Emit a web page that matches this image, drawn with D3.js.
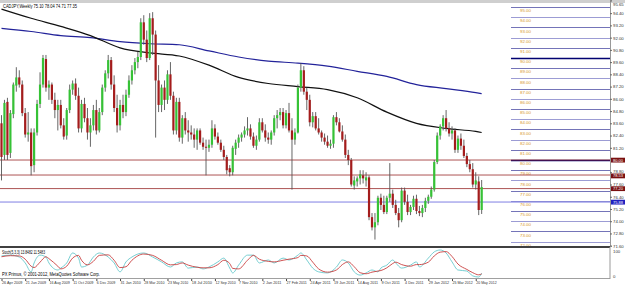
<!DOCTYPE html>
<html lang="en">
<head>
<meta charset="utf-8">
<script src="https://cdn.jsdelivr.net/npm/d3@7"></script>
<style>
  body { margin: 0; background: #fff; }
  svg text { font-family: "Liberation Sans", Arial, sans-serif; }
</style>
</head>
<body>
<script>
// weekly CADJPY bars, one per week starting 26 Apr 2009
const opens = [83.6,80.5,85.7,80.7,84.5,87.3,88.1,87.4,84.6,82.5,
  82.7,79.5,82.7,85.5,87.4,89.9,87.1,87.4,85.9,84.9,
  85.4,83.4,82.4,84.9,86.9,87.5,86.3,83.1,85.5,84.1,
  82.7,83.4,84.9,82.9,84.7,87.1,88.5,89.8,87.4,85.1,
  83.4,85.4,84.7,86.4,87.8,88.8,89.6,90.1,93.5,91.8,
  90.0,93.9,92.3,87.8,85.4,87.1,85.9,88.4,86.3,82.9,
  85.7,82.2,84.1,82.9,82.7,82.5,82.0,82.9,81.7,81.3,
  81.2,81.5,83.1,82.3,81.7,81.0,80.3,79.2,78.8,81.1,
  81.7,82.2,82.5,82.9,83.1,82.3,81.4,82.0,83.7,82.9,
  82.2,82.0,82.7,84.1,84.4,84.7,83.4,84.6,82.9,82.0,
  82.7,87.1,88.8,86.7,85.9,83.7,84.3,83.1,82.7,82.2,
  81.8,81.4,81.6,84.2,83.7,82.8,82.0,80.5,80.0,77.5,
  77.9,78.2,78.5,78.0,78.3,74.4,73.4,73.9,76.3,75.6,
  74.9,76.3,76.7,75.6,74.8,74.1,77.0,75.9,74.9,75.4,
  76.2,75.0,74.8,75.3,76.0,76.4,77.1,79.8,82.4,83.3,
  84.1,83.1,82.6,82.9,81.0,82.1,81.4,80.4,79.6,79.1,
  77.6,77.9,75.10];
const highs = [84.4,85.9,86.1,84.9,87.6,89.1,88.8,87.8,85.1,84.7,
  83.1,83.1,85.9,88.6,90.3,90.3,87.8,87.6,86.6,85.9,
  85.9,84.1,85.1,87.4,87.8,88.0,87.1,85.9,86.1,85.1,
  84.1,85.4,85.9,85.1,87.4,88.8,90.3,90.1,88.3,86.4,
  85.9,86.4,86.9,88.3,89.3,90.0,90.6,93.9,94.2,92.7,
  94.4,94.5,92.7,89.3,87.4,87.8,88.8,89.6,86.7,86.1,
  86.1,84.4,84.7,83.9,83.4,83.1,83.1,83.1,82.2,82.0,
  82.0,83.9,83.5,82.7,82.0,81.4,80.5,79.5,81.4,82.0,
  82.5,82.7,83.3,84.2,83.5,82.7,82.4,84.1,84.1,83.5,
  82.7,82.9,84.4,84.9,85.1,85.1,84.9,85.6,84.1,83.1,
  87.4,89.5,89.2,87.1,86.4,84.7,84.7,84.1,82.9,82.6,
  82.4,82.0,84.4,84.7,84.1,83.4,82.5,81.0,80.2,78.4,
  78.4,79.0,79.0,78.8,78.5,74.8,74.8,76.5,76.7,76.5,
  76.5,79.7,77.1,76.1,75.3,77.3,77.3,76.6,75.6,76.5,
  76.6,75.5,75.6,76.3,76.6,77.4,80.0,82.7,83.5,84.4,
  84.9,83.7,83.3,83.1,82.4,82.6,82.0,80.7,80.0,79.7,
  78.8,78.4,78.04];
const lows = [78.0,80.0,80.0,80.2,84.1,86.7,87.1,84.3,82.2,81.8,
  78.5,78.8,82.4,85.1,87.1,86.7,85.9,85.5,84.1,82.9,
  83.1,82.0,82.0,84.6,86.4,85.9,82.7,82.7,83.7,82.0,
  81.3,82.9,82.5,82.7,84.4,86.7,88.0,86.9,84.7,82.7,
  82.9,84.1,84.3,86.1,87.4,88.4,89.0,89.8,91.3,89.6,
  89.8,90.3,82.2,84.7,84.7,84.9,85.5,85.9,82.5,82.5,
  81.8,81.6,82.5,81.8,82.0,81.2,81.0,81.5,81.0,78.5,
  80.8,81.2,82.0,81.5,80.8,80.0,78.6,78.4,78.5,80.5,
  81.2,81.8,82.2,82.4,82.0,81.2,81.0,81.8,82.7,81.8,
  81.6,81.5,82.4,83.1,83.9,83.1,83.1,82.7,77.1,81.5,
  82.6,86.7,86.4,84.9,83.3,83.2,82.9,82.5,81.8,81.5,
  81.2,81.1,81.2,83.4,82.7,81.8,80.2,79.5,77.4,77.1,
  77.4,77.6,77.7,77.4,74.1,73.1,72.2,73.6,75.1,74.7,
  74.7,75.9,75.3,74.6,73.4,73.9,75.6,74.6,74.6,75.1,
  74.7,74.5,74.4,74.9,75.7,76.2,76.9,79.6,82.0,82.9,
  82.8,82.3,82.0,80.7,80.7,81.0,80.2,79.3,78.8,77.3,
  77.1,74.6,74.71];
const closes = [80.3,85.6,80.5,84.6,87.4,88.1,87.4,84.6,82.5,82.7,
  79.4,82.7,85.5,87.4,90.0,87.1,87.4,85.9,84.9,85.4,
  83.4,82.3,84.9,86.9,87.5,86.3,83.1,85.5,84.1,82.7,
  83.4,84.9,82.9,84.7,87.1,88.5,89.8,87.4,85.1,83.4,
  85.4,84.7,86.4,87.8,88.8,89.6,90.1,93.5,91.8,90.0,
  93.9,92.3,87.8,85.4,87.1,85.9,88.4,86.3,82.9,85.7,
  82.2,84.1,82.9,82.7,82.5,82.0,82.9,81.7,81.3,81.2,
  81.5,83.1,82.3,81.7,81.0,80.3,79.0,78.8,81.2,81.7,
  82.2,82.5,82.9,83.1,82.3,81.4,82.0,83.7,82.9,82.2,
  82.0,82.7,84.1,84.4,84.7,83.4,84.6,82.9,82.0,82.7,
  87.1,88.8,86.7,85.9,83.7,84.3,83.1,82.7,82.2,81.8,
  81.4,81.6,84.2,83.7,82.8,82.0,80.5,80.0,77.6,78.0,
  78.2,78.6,78.2,78.3,74.4,73.4,73.9,76.3,75.6,74.9,
  76.3,76.7,75.6,74.8,74.1,77.0,75.9,74.9,75.4,76.2,
  75.0,74.8,75.3,76.0,76.4,77.1,79.8,82.4,83.3,84.1,
  83.1,82.6,82.9,81.0,82.1,81.4,80.4,79.6,79.1,77.6,
  78.0,75.1,77.35];

// moving averages read at a few bars
const maIdx    = [0,10,20,30,40,50,60,70,80,90,100,110,120,130,140,150,160,162];
const maBlack  = [94.8,93.9,93.1,92.2,91.0,90.5,90.2,89.3,88.1,87.5,87.2,86.9,86.1,84.7,83.6,83.1,82.8,82.7];
const maBlue   = [92.9,92.6,92.2,92.0,91.6,91.4,91.3,90.7,90.1,89.7,89.5,89.2,88.7,88.2,87.4,87.0,86.6,86.5];

// stochastic (5,3,3)
const stoIdx = [0,3,6,8,10,11,13,15,16,19,20,22,24,26,27,29,31,33,36,38,
  40,42,44,48,51,54,57,59,61,63,66,68,70,73,75,77,78,80,83,85,
  87,90,92,95,97,100,101,103,105,107,110,113,115,117,119,121,123,125,127,128,
  130,132,133,135,138,140,141,144,146,148,150,152,154,157,159,161,162];
const stoMain = [78,81,74,52,19,52,81,74,52,26,33,52,89,70,37,44,74,89,74,52,
  19,56,74,89,74,56,37,52,56,33,37,30,37,56,70,33,15,44,81,81,
  52,63,52,70,63,81,89,63,33,19,15,37,63,52,19,7,15,26,19,33,
  44,63,52,33,44,56,37,70,93,100,89,56,26,22,4,0,13.8];
const stoSignal = [75,79,78,66,40,35,55,75,68,40,30,40,70,80,62,45,58,80,82,62,
  35,38,62,85,80,62,45,46,52,44,36,34,34,46,62,50,32,30,62,80,
  66,58,56,62,66,72,80,78,55,30,18,26,46,56,38,16,12,18,22,24,
  34,50,55,46,40,46,46,55,78,92,94,76,48,28,16,8,11.5];

// time axis labels (every 8 weeks)
const tickIdx = [0,8,16,24,32,40,48,56,64,72,80,88,96,104,112,120,128,136,144,152,160];
const tickLabels = ["26 Apr 2009","21 Jun 2009","16 Aug 2009","11 Oct 2009","6 Dec 2009",
  "31 Jan 2010","28 Mar 2010","23 May 2010","18 Jul 2010","12 Sep 2010","7 Nov 2010",
  "2 Jan 2011","27 Feb 2011","24 Apr 2011","19 Jun 2011","14 Aug 2011","9 Oct 2011",
  "4 Dec 2011","29 Jan 2012","25 Mar 2012","20 May 2012"];

// price axis labels
const priceTicks = [95.65,94.40,93.20,92.00,90.80,89.60,88.40,87.20,86.00,84.80,83.60,
  82.40,81.20,78.80,77.60,76.40,75.20,74.00,72.80,71.60];

// horizontal levels
const redLevels = [80.00,78.53,77.20];
const blueLevel = 75.88;
const gridLevels = [95,94,93,92,91,90,89,88,87,86,85,84,83,82,81,80,79,78,77,76,75,74,73,72];

var W = 625, H = 285, plotRight = 610;
var svg = d3.select("body").append("svg").attr("width", W).attr("height", H);

svg.append("rect").attr("width", W).attr("height", H).attr("fill", "#fff");
svg.append("rect").attr("width", W).attr("height", 3).attr("fill", "#cfcfcf");

var x = d3.scaleLinear().domain([0, 162]).range([1.5, 1.5 + 162 * 2.964]);
var y = d3.scaleLinear().domain([71.6, 95.65]).range([245.7, 0.4]);
var ys = d3.scaleLinear().domain([0, 100]).range([277, 250]);

svg.append("clipPath").attr("id", "main").append("rect")
  .attr("x", 0).attr("y", 3).attr("width", plotRight).attr("height", 243);
var main = svg.append("g").attr("clip-path", "url(#main)");

// right-hand grid with level labels
gridLevels.forEach(function (v) {
  main.append("line")
    .attr("x1", 511).attr("x2", plotRight)
    .attr("y1", Math.round(y(v)) + 0.5).attr("y2", Math.round(y(v)) + 0.5)
    .attr("stroke", (v === 90 || v === 80) ? "#000070" : (v % 2 ? "#7474b8" : "#9c9cd4"))
    .attr("stroke-width", (v === 90 || v === 80) ? 1.3 : 1);
  main.append("text")
    .attr("x", 520).attr("y", y(v) + 5.2)
    .attr("font-size", "4.4px").attr("fill", "#d8962a")
    .text(v.toFixed(2));
});

// horizontal lines
redLevels.forEach(function (v) {
  main.append("line").attr("x1", 0).attr("x2", plotRight)
    .attr("y1", y(v)).attr("y2", y(v))
    .attr("stroke", "#9a2a2a").attr("stroke-width", 1).attr("opacity", 0.8);
});
main.append("line").attr("x1", 0).attr("x2", plotRight)
  .attr("y1", y(blueLevel)).attr("y2", y(blueLevel))
  .attr("stroke", "#7070e0").attr("stroke-width", 0.9);

// moving averages
var maLine = function (vals) {
  return d3.line().x(function (d, i) { return x(maIdx[i]); })
    .y(function (d) { return y(d); }).curve(d3.curveMonotoneX)(vals);
};
main.append("path").attr("d", maLine(maBlue)).attr("fill", "none")
  .attr("stroke", "#23239a").attr("stroke-width", 1.2);
main.append("path").attr("d", maLine(maBlack)).attr("fill", "none")
  .attr("stroke", "#111").attr("stroke-width", 1.2);

// candles
var bars = d3.range(opens.length);
main.selectAll(".wick").data(bars).enter().append("line")
  .attr("x1", function (i) { return x(i); }).attr("x2", function (i) { return x(i); })
  .attr("y1", function (i) { return y(highs[i]); }).attr("y2", function (i) { return y(lows[i]); })
  .attr("stroke", "#555").attr("stroke-width", 0.9);
main.selectAll(".body").data(bars).enter().append("rect")
  .attr("x", function (i) { return x(i) - 1.1; })
  .attr("width", 2.2)
  .attr("y", function (i) { return y(Math.max(opens[i], closes[i])); })
  .attr("height", function (i) { return Math.max(0.8, Math.abs(y(opens[i]) - y(closes[i]))); })
  .attr("fill", function (i) { return closes[i] >= opens[i] ? "#36c236" : "#a41c1c"; });

// header
svg.append("text").attr("x", 3).attr("y", 7.5).attr("font-size", "4.6px").attr("fill", "#000")
  .attr("textLength", 74).attr("lengthAdjust", "spacingAndGlyphs")
  .text("CADJPY,Weekly  75.10 78.04 74.71 77.35");

// right axis
var rAxis = svg.append("g").attr("transform", "translate(" + plotRight + ",0)")
  .call(d3.axisRight(y).tickValues(priceTicks).tickSize(2).tickFormat(d3.format(".2f")));
rAxis.select(".domain").attr("stroke", "#999");
rAxis.selectAll(".tick line").attr("stroke", "#666");
rAxis.selectAll("text").attr("font-size", "4.3px").attr("fill", "#333").attr("x", 3);
rAxis.selectAll(".tick").filter(function (d) { return d === 95.65; })
  .select("text").attr("dy", "1.1em");
rAxis.selectAll(".tick").filter(function (d) { return d === 78.80; })
  .select("text").attr("dy", "0.05em");

// highlighted level labels on the axis
redLevels.concat([blueLevel]).forEach(function (v, k) {
  var g = svg.append("g").attr("transform", "translate(" + (plotRight + 1) + "," + (y(v) + (k === 1 ? 0.8 : 0)) + ")");
  g.append("rect").attr("x", 0).attr("y", -2.3).attr("width", 14).attr("height", 4.8)
    .attr("fill", k < 3 ? "#7a1010" : "#2020c0");
  g.append("text").attr("x", 2).attr("y", 1.5).attr("font-size", "4px").attr("fill", "#fff")
    .text(v.toFixed(2));
});

// separator and stochastic panel
svg.append("line").attr("x1", 0).attr("x2", plotRight).attr("y1", 247).attr("y2", 247)
  .attr("stroke", "#000").attr("stroke-width", 1.3);
svg.append("line").attr("x1", 0).attr("x2", plotRight).attr("y1", 278.5).attr("y2", 278.5)
  .attr("stroke", "#888").attr("stroke-width", 0.8);
svg.append("line").attr("x1", plotRight).attr("x2", plotRight).attr("y1", 247).attr("y2", 279)
  .attr("stroke", "#999");

var stoLine = d3.line().x(function (d, i) { return x(stoIdx[i]); })
  .y(function (d) { return ys(d); }).curve(d3.curveMonotoneX);
svg.append("path").attr("d", stoLine(stoMain)).attr("fill", "none")
  .attr("stroke", "#66c8cc").attr("stroke-width", 0.9);
svg.append("path").attr("d", stoLine(stoSignal)).attr("fill", "none")
  .attr("stroke", "#c84040").attr("stroke-width", 0.9);

svg.append("text").attr("x", 2).attr("y", 253.5).attr("font-size", "4.6px").attr("fill", "#000")
  .attr("textLength", 43).attr("lengthAdjust", "spacingAndGlyphs")
  .text("Stoch(5,3,3) 13.8482 11.5483");
svg.append("text").attr("x", 2).attr("y", 276).attr("font-size", "4.6px").attr("fill", "#000")
  .attr("textLength", 98).attr("lengthAdjust", "spacingAndGlyphs")
  .text("PX Primus, \u00a9 2001-2012, MetaQuotes Software Corp.");
svg.append("text").attr("x", 613).attr("y", 253).attr("font-size", "4.3px").attr("fill", "#333").text("100");
svg.append("text").attr("x", 613).attr("y", 278).attr("font-size", "4.3px").attr("fill", "#333").text("0");

// time axis
var bAxis = svg.append("g").attr("transform", "translate(0,279)")
  .call(d3.axisBottom(x).tickValues(tickIdx).tickSize(2)
    .tickFormat(function (d, i) { return tickLabels[i]; }));
bAxis.select(".domain").remove();
bAxis.selectAll(".tick line").attr("stroke", "#444");
bAxis.selectAll("text").attr("font-size", "4.4px").attr("fill", "#333")
  .attr("text-anchor", "start").attr("x", 0).attr("dy", "0").attr("y", 5)
  .attr("textLength", function (d, i) { return tickLabels[i].length * 1.85; })
  .attr("lengthAdjust", "spacingAndGlyphs");
</script>
</body>
</html>
